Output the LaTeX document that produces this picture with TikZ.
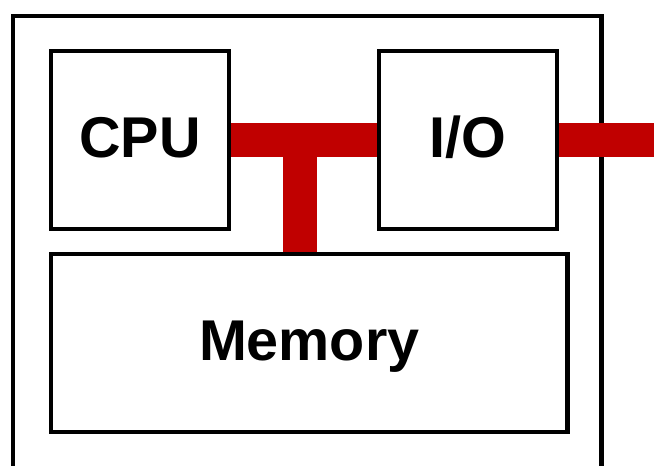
\documentclass[tikz,border=0pt]{standalone}
\usepackage{fontspec}
\setmainfont{Liberation Sans}
\definecolor{busred}{HTML}{C00000}
\begin{document}
\begin{tikzpicture}[x=1pt,y=-1pt,
  unit/.style={draw=black,line width=4.2pt,fill=white,inner sep=0pt,
    font=\fontsize{57.5}{60}\selectfont\bfseries,text height=41pt,text depth=6pt},
  bus/.style={draw=busred,line width=34pt,line cap=butt}]
\useasboundingbox (0,0) rectangle (654,466);
\clip (0,0) rectangle (654,466);
\fill[white] (0,0) rectangle (654,466);
\draw[line width=4.2pt] (13,16) rectangle (601.5,480);
\node[unit,minimum width=178pt,minimum height=178pt] (cpu) at (140,140) {CPU};
\node[unit,minimum width=178pt,minimum height=178pt] (io) at (468,140) {I/O};
\node[unit,minimum width=516.5pt,minimum height=178pt] (mem) at (309.25,343) {Memory};
\coordinate (tj) at (299.5,140);
\coordinate (ext) at (662,140);
\draw[bus] (cpu.east) -- (io.west);
\draw[bus] (tj) -- (tj |- mem.north);
\draw[bus] (io.east) -- (ext);
\end{tikzpicture}
\end{document}
